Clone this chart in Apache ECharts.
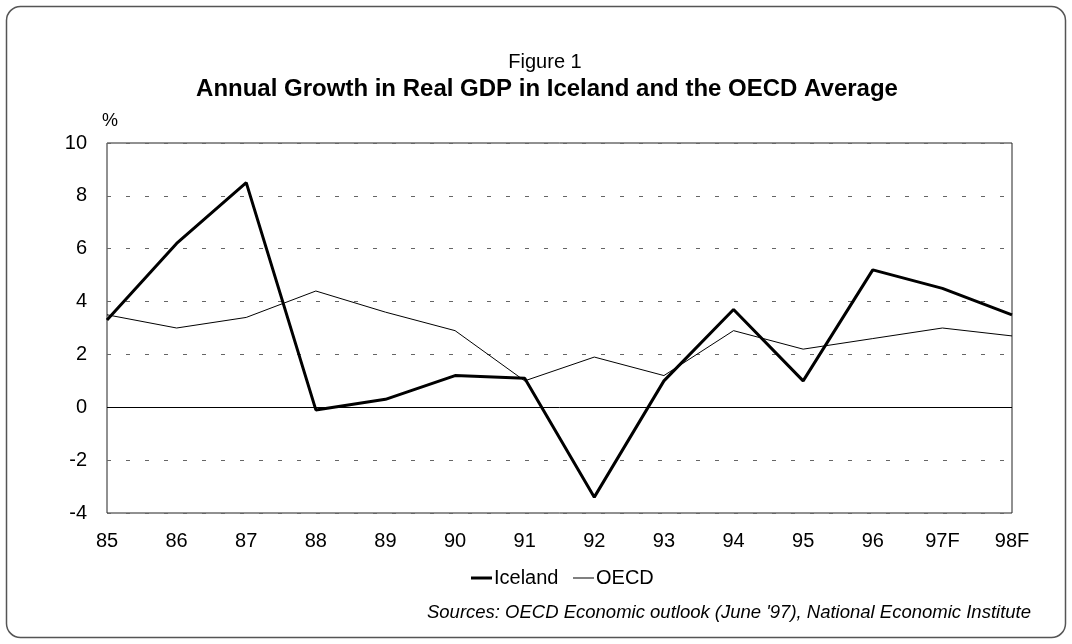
<!DOCTYPE html>
<html>
<head>
<meta charset="utf-8">
<script src="https://cdn.jsdelivr.net/npm/echarts@6/dist/echarts.min.js"></script>
<style>
  html, body { margin: 0; padding: 0; background: #fff; }
  #chart { width: 1072px; height: 644px; }
</style>
</head>
<body>
<div id="chart"></div>
<script>
// Annual real GDP growth, %
const years = ['85', '86', '87', '88', '89', '90', '91', '92', '93', '94', '95', '96', '97F', '98F'];
const iceland = [3.3, 6.2, 8.5, -0.1, 0.3, 1.2, 1.1, -3.4, 1.0, 3.7, 1.0, 5.2, 4.5, 3.5];
const oecd = [3.5, 3.0, 3.4, 4.4, 3.6, 2.9, 1.0, 1.9, 1.2, 2.9, 2.2, 2.6, 3.0, 2.7];
const yTicks = { min: -4, max: 10, step: 2 };

const FONT = 'Arial, "Liberation Sans", Helvetica, sans-serif';

const chart = echarts.init(document.getElementById('chart'), null, { renderer: 'canvas' });

// one legend per series so each key line keeps its own thickness
function legendFor(name, left, thickness) {
  return {
    data: [{ name: name, icon: 'rect' }],
    left: left, top: 563,
    itemWidth: 21, itemHeight: thickness,
    itemStyle: { color: '#000', borderWidth: 0 },
    textStyle: { color: '#000', fontFamily: FONT, fontSize: 20, padding: [0, 0, 0, -3] },
    selectedMode: false
  };
}

chart.setOption({
  backgroundColor: '#ffffff',
  animation: false,
  grid: {
    left: 107, right: 60, top: 143, bottom: 131,
    show: true, borderColor: '#222', borderWidth: 1, backgroundColor: 'transparent'
  },
  xAxis: {
    type: 'category',
    data: years,
    boundaryGap: false,
    axisLine: { show: false },
    axisTick: { show: false },
    splitLine: { show: false },
    axisLabel: { interval: 0, color: '#000', fontFamily: FONT, fontSize: 20, margin: 18 }
  },
  yAxis: {
    type: 'value',
    min: yTicks.min, max: yTicks.max, interval: yTicks.step,
    axisLine: { show: false },
    axisTick: { show: false },
    axisLabel: { color: '#000', fontFamily: FONT, fontSize: 20, margin: 20 },
    splitLine: { show: true, lineStyle: { color: '#666', width: 1, type: [4, 15] } }
  },
  legend: [
    legendFor('Iceland', 466, 3),
    legendFor('OECD', 568, 1)
  ],
  series: [
    {
      name: 'Iceland', type: 'line', data: iceland,
      symbol: 'none', smooth: false,
      lineStyle: { color: '#000', width: 3 },
      itemStyle: { color: '#000' },
      z: 4
    },
    {
      name: 'OECD', type: 'line', data: oecd,
      symbol: 'none', smooth: false,
      lineStyle: { color: '#000', width: 1 },
      itemStyle: { color: '#000' },
      z: 3,
      markLine: {
        silent: true, symbol: 'none', label: { show: false },
        lineStyle: { color: '#000', width: 1, type: 'solid' },
        data: [{ yAxis: 0 }]
      }
    }
  ],
  graphic: [
    {
      type: 'rect', z: -1, silent: true,
      shape: { x: 6.5, y: 6.5, width: 1059, height: 631, r: 14 },
      style: { fill: 'none', stroke: '#555', lineWidth: 1.5 }
    },
    {
      type: 'text', x: 545, y: 62, silent: true,
      style: { text: 'Figure 1', fill: '#000', fontFamily: FONT, fontSize: 20, align: 'center', verticalAlign: 'middle' }
    },
    {
      type: 'text', x: 547, y: 89, silent: true,
      style: { text: 'Annual Growth in Real GDP in Iceland and the OECD Average', fill: '#000', fontFamily: FONT, fontSize: 24, fontWeight: 'bold', align: 'center', verticalAlign: 'middle' }
    },
    {
      type: 'text', x: 110, y: 121, silent: true,
      style: { text: '%', fill: '#000', fontFamily: FONT, fontSize: 18, align: 'center', verticalAlign: 'middle' }
    },
    {
      type: 'text', x: 1031, y: 613, silent: true,
      style: { text: "Sources: OECD Economic outlook (June '97), National Economic Institute", fill: '#000', fontFamily: FONT, fontSize: 18.5, fontStyle: 'italic', align: 'right', verticalAlign: 'middle' }
    }
  ]
});
</script>
</body>
</html>
